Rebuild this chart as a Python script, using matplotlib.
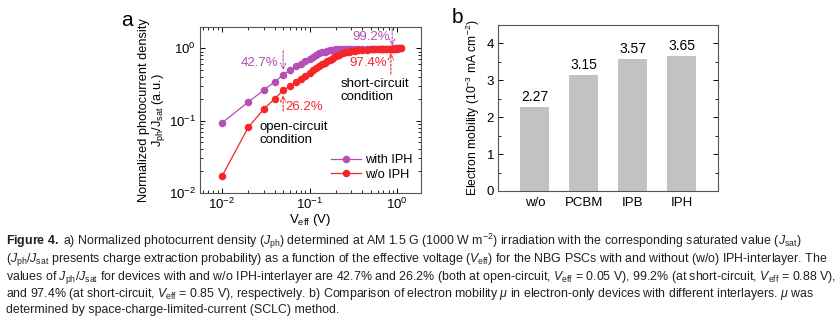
import matplotlib
matplotlib.use("Agg")
import matplotlib.pyplot as plt
from matplotlib.ticker import LogLocator, NullFormatter, MultipleLocator

plt.rcParams['font.family'] = ['Liberation Sans', 'DejaVu Sans']
plt.rcParams['mathtext.fontset'] = 'custom'
plt.rcParams['mathtext.rm'] = 'Liberation Sans'
plt.rcParams['mathtext.it'] = 'Liberation Sans:italic'
plt.rcParams['mathtext.bf'] = 'Liberation Sans:bold'

# ---------------- data ----------------
v_eff = [0.01, 0.02, 0.03, 0.04, 0.05, 0.06, 0.07, 0.08, 0.09, 0.10,
         0.11, 0.12, 0.13, 0.14, 0.15, 0.16, 0.17, 0.18, 0.19, 0.20,
         0.22, 0.24, 0.26, 0.28, 0.30, 0.33, 0.36, 0.40, 0.45, 0.50,
         0.55, 0.60, 0.65, 0.70, 0.75, 0.80, 0.85, 0.88, 0.92, 0.96,
         1.00, 1.05, 1.10]
j_with_iph = [0.093, 0.181, 0.264, 0.344, 0.427, 0.50, 0.56, 0.61, 0.66, 0.71,
              0.75, 0.80, 0.85, 0.88, 0.90, 0.92, 0.935, 0.945, 0.955, 0.962,
              0.970, 0.975, 0.978, 0.980, 0.982, 0.984, 0.985, 0.986, 0.987, 0.988,
              0.989, 0.990, 0.990, 0.991, 0.991, 0.992, 0.992, 0.992, 0.994, 0.996,
              0.998, 1.0, 1.0]
j_wo_iph = [0.017, 0.081, 0.144, 0.200, 0.262, 0.30, 0.34, 0.38, 0.42, 0.46,
            0.50, 0.535, 0.57, 0.60, 0.63, 0.66, 0.69, 0.72, 0.75, 0.78,
            0.82, 0.855, 0.88, 0.895, 0.91, 0.925, 0.935, 0.945, 0.955, 0.962,
            0.967, 0.970, 0.972, 0.973, 0.974, 0.974, 0.974, 0.976, 0.980, 0.985,
            0.990, 0.995, 1.0]

interlayers = ['w/o', 'PCBM', 'IPB', 'IPH']
mobility = [2.27, 3.15, 3.57, 3.65]

purple = '#B34FB5'
red = '#F5262A'

fig = plt.figure(figsize=(8.4, 3.27), dpi=100)

# ---------------- panel a ----------------
ax = fig.add_axes([0.238, 0.410, 0.263, 0.507])
ax.plot(v_eff, j_with_iph, '-o', color=purple, lw=0.9, ms=4.4, mec=purple, mfc=purple, label='with IPH')
ax.plot(v_eff, j_wo_iph, '-o', color=red, lw=0.9, ms=4.4, mec=red, mfc=red, label='w/o IPH')
ax.set_xscale('log')
ax.set_yscale('log')
ax.set_xlim(0.0056, 1.87)
ax.set_ylim(0.01, 1.96)
ax.tick_params(which='both', direction='in', top=True, right=True, labelsize=9.5, pad=3)
ax.tick_params(which='major', length=3.5, width=0.7)
ax.tick_params(which='minor', length=2, width=0.6)
ax.xaxis.set_minor_locator(LogLocator(base=10, subs=range(2, 10), numticks=20))
ax.yaxis.set_minor_locator(LogLocator(base=10, subs=range(2, 10), numticks=20))
ax.xaxis.set_minor_formatter(NullFormatter())
ax.yaxis.set_minor_formatter(NullFormatter())
for s in ax.spines.values():
    s.set_color('#555555')
    s.set_linewidth(0.8)
ax.set_xlabel(r'V$_{\mathrm{eff}}$ (V)', fontsize=9.5, labelpad=0)
ax.set_ylabel('Normalized photocurrent density\n' + r'J$_{\mathrm{ph}}$/J$_{\mathrm{sat}}$ (a.u.)',
              fontsize=9.2, labelpad=1, linespacing=1.05)

dash_arrow = dict(arrowstyle='->', linestyle=(0, (2, 1.5)), lw=0.8, shrinkA=0, shrinkB=0)
ax.annotate('', xy=(0.05, 0.50), xytext=(0.05, 0.92), arrowprops=dict(dash_arrow, color=purple))
ax.text(0.0437, 0.625, '42.7%', color=purple, fontsize=9.5, ha='right', va='center')
ax.annotate('', xy=(0.05, 0.225), xytext=(0.05, 0.135), arrowprops=dict(dash_arrow, color=red))
ax.text(0.053, 0.153, '26.2%', color=red, fontsize=9.5, ha='left', va='center')
ax.annotate('', xy=(0.88, 1.08), xytext=(0.88, 1.85), arrowprops=dict(dash_arrow, color=purple))
ax.text(0.83, 1.42, '99.2%', color=purple, fontsize=9.5, ha='right', va='center')
ax.annotate('', xy=(0.85, 0.86), xytext=(0.85, 0.44), arrowprops=dict(dash_arrow, color=red))
ax.text(0.76, 0.625, '97.4%', color=red, fontsize=9.5, ha='right', va='center')
ax.text(0.224, 0.26, 'short-circuit\ncondition', fontsize=9.5, ha='left', va='center', linespacing=1.15)
ax.text(0.0265, 0.067, 'open-circuit\ncondition', fontsize=9.5, ha='left', va='center', linespacing=1.15)

leg = ax.legend(loc='lower right', bbox_to_anchor=(1.0, 0.02), frameon=False, fontsize=9.2,
                handlelength=2.3, handletextpad=0.3, labelspacing=0.2, borderaxespad=0.3)
for h in leg.legend_handles:
    h.set_markersize(4.4)

fig.text(0.151, 0.938, 'a', fontsize=15, ha='center', va='center')

# ---------------- panel b ----------------
bx = fig.add_axes([0.593, 0.416, 0.262, 0.508])
xpos = list(range(len(interlayers)))
bars = bx.bar(xpos, mobility, width=0.6, color='#C2C2C2', edgecolor='none')
for xi, m in zip(xpos, mobility):
    bx.text(xi, m + 0.08, f'{m:.2f}', ha='center', va='bottom', fontsize=10)
bx.set_xlim(-0.75, 3.75)
bx.set_ylim(0, 4.5)
bx.set_xticks(xpos)
bx.set_xticklabels(interlayers, fontsize=9.5)
bx.yaxis.set_major_locator(MultipleLocator(1))
bx.yaxis.set_minor_locator(MultipleLocator(0.5))
bx.tick_params(axis='y', which='both', direction='in', right=True, labelsize=9.5, pad=3)
bx.tick_params(axis='y', which='major', length=3.5, width=0.7)
bx.tick_params(axis='y', which='minor', length=2, width=0.6)
bx.tick_params(axis='x', length=0, pad=4)
for s in bx.spines.values():
    s.set_color('#555555')
    s.set_linewidth(0.8)
bx.set_ylabel(r'Electron mobility (10$^{-3}$ mA cm$^{-2}$)', fontsize=8.7, labelpad=3)
fig.text(0.545, 0.945, 'b', fontsize=15, ha='center', va='center')

# ---------------- caption ----------------
cap_font = ['Liberation Sans Narrow', 'Liberation Sans', 'DejaVu Sans']
cap_lines = [
    r'$\mathbf{Figure\ 4.}$ a) Normalized photocurrent density ($J_{\mathrm{ph}}$) determined at AM 1.5 G (1000 W m$^{-2}$) irradiation with the corresponding saturated value ($J_{\mathrm{sat}}$)',
    r'($J_{\mathrm{ph}}$/$J_{\mathrm{sat}}$ presents charge extraction probability) as a function of the effective voltage ($V_{\mathrm{eff}}$) for the NBG PSCs with and without (w/o) IPH-interlayer. The',
    r'values of $J_{\mathrm{ph}}$/$J_{\mathrm{sat}}$ for devices with and w/o IPH-interlayer are 42.7% and 26.2% (both at open-circuit, $V_{\mathrm{eff}}$ = 0.05 V), 99.2% (at short-circuit, $V_{\mathrm{eff}}$ = 0.88 V),',
    r'and 97.4% (at short-circuit, $V_{\mathrm{eff}}$ = 0.85 V), respectively. b) Comparison of electron mobility $\mu$ in electron-only devices with different interlayers. $\mu$ was',
    r'determined by space-charge-limited-current (SCLC) method.',
]
cap_y = [245, 262, 280, 297, 313]
for line, yp in zip(cap_lines, cap_y):
    fig.text(6 / 840, 1 - yp / 327, line, fontsize=8.95, family=cap_font, color='#231F20',
             ha='left', va='baseline')

fig.savefig('out.png', dpi=100)
